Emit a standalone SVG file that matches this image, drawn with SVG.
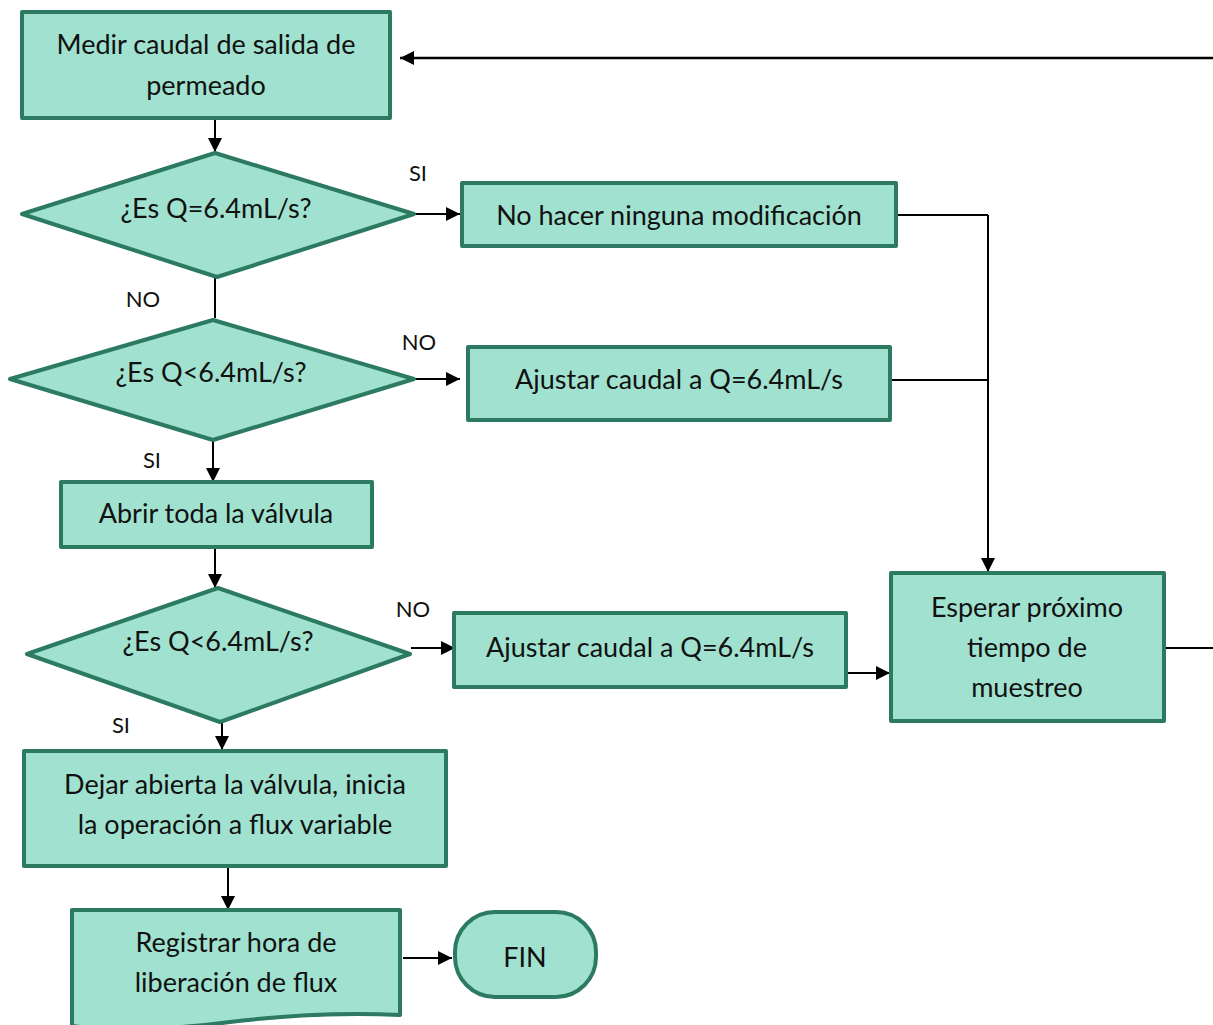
<svg xmlns="http://www.w3.org/2000/svg" width="1213" height="1025" viewBox="0 0 1213 1025">
<defs>
<marker id="ah" viewBox="0 0 10 10" refX="10" refY="5" markerWidth="14" markerHeight="14" markerUnits="userSpaceOnUse" orient="auto">
<path d="M0,0 L10,5 L0,10 Z" fill="#000"/>
</marker>
</defs>
<style>
.n{fill:#a0e2cf;stroke:#2b7a61;stroke-width:4;stroke-linejoin:round}
.t{font-family:Lato,"Open Sans","Liberation Sans",sans-serif;font-size:27px;fill:#111;text-anchor:middle}
.l{font-family:Lato,"Open Sans","Liberation Sans",sans-serif;font-size:22px;fill:#111;text-anchor:middle}
.c{fill:none;stroke:#000;stroke-width:2}
.a{marker-end:url(#ah)}
</style>
<g id="connectors">
<path class="c a" d="M215,118 V152"/>
<path class="c a" d="M414,214 H460"/>
<path class="c" d="M215,277 V318"/>
<path class="c a" d="M414,379 H460"/>
<path class="c a" d="M213,440 V482"/>
<path class="c a" d="M215,547 V588"/>
<path class="c a" d="M411,648 H455"/>
<path class="c a" d="M222,722 V750"/>
<path class="c a" d="M228,866 V910"/>
<path class="c a" d="M403,958 H452"/>
<path class="c" d="M896,215 H988"/>
<path class="c" d="M890,380 H988"/>
<path class="c a" d="M988,215 V572"/>
<path class="c a" d="M847,673 H890"/>
<path class="c" d="M1164,648 H1213"/>
<path class="c a" d="M1213,58 H400" style="stroke-width:2.5"/>
</g>
<g id="labels">
<text class="l" x="418" y="181">SI</text>
<text class="l" x="143" y="307">NO</text>
<text class="l" x="419" y="350">NO</text>
<text class="l" x="152" y="468">SI</text>
<text class="l" x="413" y="617">NO</text>
<text class="l" x="121" y="733">SI</text>
</g>
<g id="n1">
<rect class="n" x="22" y="12" width="368" height="106"/>
<text class="t" x="206" y="54">Medir caudal de salida de</text>
<text class="t" x="206" y="95">permeado</text>
</g>
<g id="d1">
<polygon class="n" points="22,214 215,153 414,214 217,277"/>
<text class="t" x="216" y="218">¿Es Q=6.4mL/s?</text>
</g>
<g id="n2">
<rect class="n" x="462" y="183" width="434" height="63"/>
<text class="t" x="679" y="225">No hacer ninguna modificación</text>
</g>
<g id="d2">
<polygon class="n" points="10,379 213,320 414,379 213,440"/>
<text class="t" x="211" y="382">¿Es Q&lt;6.4mL/s?</text>
</g>
<g id="n3">
<rect class="n" x="468" y="347" width="422" height="73"/>
<text class="t" x="679" y="389">Ajustar caudal a Q=6.4mL/s</text>
</g>
<g id="n4">
<rect class="n" x="61" y="482" width="311" height="65"/>
<text class="t" x="216" y="523">Abrir toda la válvula</text>
</g>
<g id="d3">
<polygon class="n" points="27,654 218,588 410,654 220,722"/>
<text class="t" x="218" y="651">¿Es Q&lt;6.4mL/s?</text>
</g>
<g id="n5">
<rect class="n" x="454" y="613" width="392" height="74"/>
<text class="t" x="650" y="657">Ajustar caudal a Q=6.4mL/s</text>
</g>
<g id="n6">
<rect class="n" x="891" y="573" width="273" height="148"/>
<text class="t" x="1027" y="617">Esperar próximo</text>
<text class="t" x="1027" y="657">tiempo de</text>
<text class="t" x="1027" y="697">muestreo</text>
</g>
<g id="n7">
<rect class="n" x="24" y="751" width="422" height="115"/>
<text class="t" x="235" y="794">Dejar abierta la válvula, inicia</text>
<text class="t" x="235" y="834">la operación a flux variable</text>
</g>
<g id="n8">
<path class="n" d="M72,910 H400 V1015 C340,1012 280,1016 230,1022 C170,1030 110,1031 72,1026 Z"/>
<text class="t" x="236" y="952">Registrar hora de</text>
<text class="t" x="236" y="992">liberación de flux</text>
</g>
<g id="n9">
<rect class="n" x="455" y="912" width="141" height="85" rx="40" ry="40"/>
<text class="t" x="525" y="967">FIN</text>
</g>
</svg>
